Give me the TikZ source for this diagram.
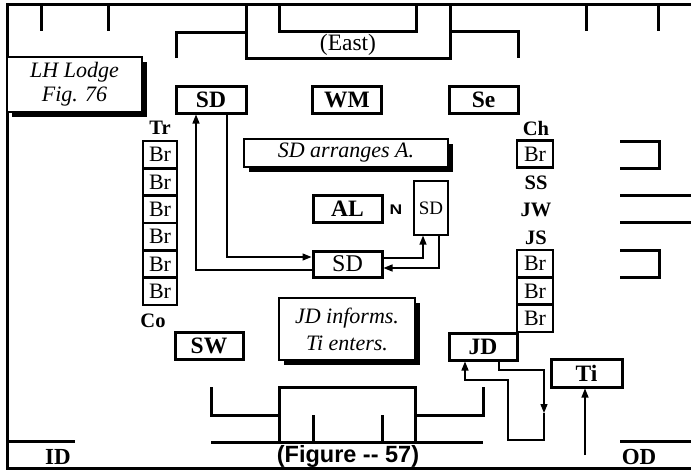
\documentclass[tikz,border=0pt]{standalone}
\usepackage{fontspec}
\setmainfont{Liberation Serif}
\newfontfamily\arialfont{Liberation Sans}
\usetikzlibrary{arrows.meta,shadows}
\begin{document}
\begin{tikzpicture}[x=1pt,y=-1pt,
  wall/.style={line width=3pt, line join=miter},
  box/.style={draw, line width=3pt, inner sep=0pt, minimum width=69pt, minimum height=27pt, font=\fontsize{23.5}{24}\selectfont\bfseries},
  brbox/.style={draw, line width=2.6pt, inner sep=0pt, minimum height=27.3pt, font=\fontsize{22}{24}\selectfont},
  lab/.style={inner sep=0pt, font=\fontsize{20.5}{22}\selectfont\bfseries},
  note/.style={draw, line width=1.2pt, fill=white, inner sep=0pt, align=center,
     font=\fontsize{22}{24}\selectfont\itshape,
     drop shadow={shadow xshift=5pt, shadow yshift=-5pt, fill=black, opacity=1}},
  arr/.style={line width=1.3pt, -{Triangle[length=9pt,width=7pt]}},
  conn/.style={line width=1.3pt}]
\useasboundingbox (0,0) rectangle (691,471);
% outer walls
\draw[wall] (691,4) -- (7,4) -- (7,468) -- (691,468);
% top structure
\draw[wall] (41,4) -- (41,31);
\draw[wall] (108,4) -- (108,31);
\draw[wall] (586,4) -- (586,31);
\draw[wall] (658,4) -- (658,31);
\draw[wall] (176,58) -- (176,32) -- (246,32);
\draw[wall] (246,4) -- (246,58) -- (450,58) -- (450,4);
\draw[wall] (279,4) -- (279,31) -- (416,31) -- (416,4);
\draw[wall] (450,31) -- (518,31) -- (518,58);
\node[inner sep=0pt, font=\fontsize{23.5}{24}\selectfont] (east) at (348,45) {(East)};
% bottom structure
\draw[wall] (211,387) -- (211,415) -- (279,415);
\draw[wall] (279,442) -- (279,387) -- (415,387) -- (415,442);
\draw[wall] (313,415) -- (313,442);
\draw[wall] (382,415) -- (382,442);
\draw[wall] (415,415) -- (483,415) -- (483,387);
\draw[wall] (211,442) -- (483,442);
\draw[wall] (7,441) -- (75,441);
\draw[wall] (620,441) -- (691,441);
\node[inner sep=0pt, font=\arialfont\fontsize{23.5}{25}\selectfont\bfseries] (fig) at (348,456) {(Figure -- 57)};
\node[lab, font=\fontsize{23}{24}\selectfont\bfseries] (id) at (58,456.5) {ID};
\node[lab, font=\fontsize{23}{24}\selectfont\bfseries] (od) at (639,456.5) {OD};
% right side fragments
\draw[wall] (620,141) -- (659,141) -- (659,168) -- (620,168);
\draw[wall] (620,195) -- (691,195);
\draw[wall] (620,222) -- (691,222);
\draw[wall] (620,250) -- (659,250) -- (659,277) -- (620,277);
% notes
\node[note, minimum width=135pt, minimum height=55pt] (lh) at (74.5,84.5) {LH Lodge\\[0pt]Fig. 76};
\node[note, minimum width=204pt, minimum height=28pt] (sda) at (346,153) {SD arranges A.};
\node[note, minimum width=136pt, minimum height=62pt] (jdi) at (347,329) {JD informs.\\[3pt]Ti enters.};
% officer boxes
\node[box, minimum width=70pt] (sd1) at (211,99.5) {SD};
\node[box] (wm) at (347,99.5) {WM};
\node[box] (se) at (483.5,99.5) {Se};
\node[box] (al) at (347.5,208.5) {AL};
\node[box, font=\fontsize{24}{24}\selectfont, minimum height=26pt] (sdm) at (347.5,264) {SD};
\node[draw, line width=1.2pt, inner sep=0pt, minimum width=34pt, minimum height=54pt, font=\fontsize{19}{20}\selectfont] (sds) at (431,208) {SD};
\node[inner sep=0pt, xscale=1.25, font=\arialfont\fontsize{14}{14}\selectfont\bfseries] (north) at (396,210) {N};
\node[box, minimum width=68pt] (sw) at (209,346) {SW};
\node[box, minimum width=68pt] (jd) at (483,346.5) {JD};
\node[box, minimum width=71pt, minimum height=28pt] (ti) at (586.5,373) {Ti};
% left column
\node[lab] (tr) at (160,128) {Tr};
\foreach \i in {0,...,5} {
  \node[brbox, minimum width=34pt] (bl\i) at (160,{154.7+27.33*\i}) {Br};
}
\node[lab] (co) at (153,321) {Co};
% right column
\node[lab] (ch) at (536,128) {Ch};
\node[brbox, minimum width=36pt] (br0) at (535,154) {Br};
\node[lab] (ss) at (536,183) {SS};
\node[lab] (jw) at (536,210) {JW};
\node[lab] (js) at (536,238) {JS};
\foreach \i in {1,2,3} {
  \node[brbox, minimum width=36pt] (br\i) at (535,{236.5+27.3*\i}) {Br};
}
% connectors SD
\draw[arr] ([xshift=16pt]sd1.south) |- ([yshift=7pt]sdm.west);
\draw[arr] ([yshift=-6pt]sdm.west) -| ([xshift=-15pt]sd1.south);
\draw[arr] ([yshift=6pt]sdm.east) -| ([xshift=-8pt]sds.south);
\draw[arr] ([xshift=8pt]sds.south) |- ([yshift=-4pt]sdm.east);
% JD loop
\coordinate (lpA) at (544,370);
\coordinate (lpM) at (544,413);
\coordinate (lpB) at (544,440);
\coordinate (lpC) at (508,380);
\draw[arr] ([xshift=16pt]jd.south) |- (lpA) -- (lpM);
\draw[arr] (lpM) -- (lpB) -| (lpC) -| ([xshift=-18pt]jd.south);
% Ti
\coordinate (tiin) at (585,455);
\draw[arr] (tiin) -- (tiin |- ti.south);
\end{tikzpicture}
\end{document}
